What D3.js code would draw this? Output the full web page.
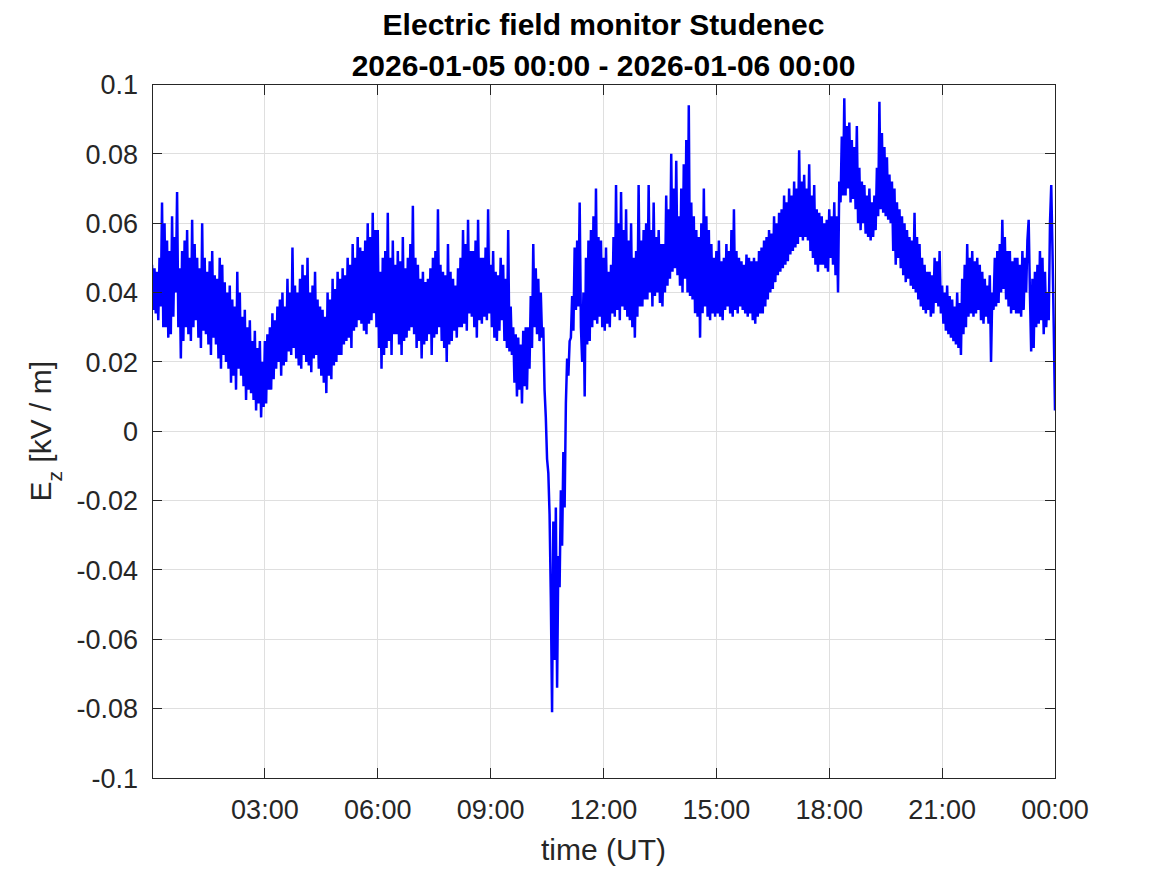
<!DOCTYPE html>
<html>
<meta charset="utf-8">
<title>Electric field monitor Studenec</title>
<style>
body {
  margin: 0;
  background: #fff;
  font-family: "Liberation Sans", Arial, sans-serif;
}

.grid line {
  stroke: #dfdfdf;
  stroke-width: 1;
  shape-rendering: crispEdges;
}

.frame {
  fill: none;
  stroke: #262626;
  stroke-width: 1;
  shape-rendering: crispEdges;
}

.tick-mark {
  stroke: #262626;
  stroke-width: 1;
  shape-rendering: crispEdges;
}

.tick-label {
  font-size: 27px;
  fill: #262626;
}

.ez-line {
  fill: none;
  stroke: #0000ff;
  stroke-width: 2.5;
  stroke-linejoin: bevel;
}
</style>
<body>
<div id="chart"></div>
<script src="https://d3js.org/d3.v7.min.js"></script>
<script>

// E_z samples [kV/m], every 2 minutes starting 2026-01-05 00:00 UT
// (one row = one hour)
var sampleStart = Date.UTC(2026, 0, 5, 0, 0),
  sampleEnd = Date.UTC(2026, 0, 6, 0, 0),
  sampleStepMinutes = 2;

// 00:00 - 06:00
var ezNight = [
  0.048,0.035, 0.047,0.034, 0.046,0.032, 0.050,0.036, 0.066,0.030, 0.060,0.030, 0.055,0.027, 0.052,0.028, 0.062,0.033, 0.056,0.040, 0.069,0.030, 0.047,0.021, 0.052,0.026, 0.055,0.030, 0.058,0.028,
  0.050,0.026, 0.061,0.030, 0.054,0.032, 0.050,0.027, 0.047,0.024, 0.060,0.029, 0.050,0.028, 0.046,0.025, 0.049,0.022, 0.052,0.027, 0.045,0.025, 0.044,0.021, 0.050,0.018, 0.048,0.022, 0.043,0.020,
  0.040,0.018, 0.042,0.014, 0.038,0.016, 0.036,0.012, 0.046,0.018, 0.040,0.016, 0.033,0.013, 0.035,0.009, 0.030,0.012, 0.032,0.011, 0.026,0.009, 0.029,0.006, 0.024,0.008, 0.026,0.004, 0.020,0.007,
  0.026,0.008, 0.028,0.012, 0.030,0.012, 0.034,0.015, 0.032,0.018, 0.036,0.020, 0.038,0.016, 0.040,0.019, 0.036,0.020, 0.044,0.023, 0.040,0.022, 0.053,0.024, 0.042,0.021, 0.040,0.019, 0.044,0.018,
  0.048,0.022, 0.045,0.020, 0.050,0.019, 0.040,0.017, 0.042,0.021, 0.046,0.022, 0.038,0.018, 0.036,0.016, 0.035,0.014, 0.033,0.011, 0.040,0.016, 0.038,0.015, 0.044,0.019, 0.041,0.020, 0.046,0.022,
  0.044,0.022, 0.047,0.025, 0.045,0.026, 0.050,0.027, 0.048,0.024, 0.054,0.029, 0.050,0.030, 0.056,0.032, 0.053,0.031, 0.052,0.029, 0.055,0.028, 0.060,0.031, 0.056,0.032, 0.063,0.034, 0.058,0.030
];

// 06:00 - 12:00
var ezMorning = [
  0.058,0.024, 0.046,0.018, 0.050,0.022, 0.052,0.024, 0.063,0.026, 0.050,0.022, 0.055,0.028, 0.048,0.028, 0.052,0.025, 0.049,0.022, 0.056,0.026, 0.047,0.027, 0.050,0.029, 0.054,0.030, 0.065,0.028,
  0.050,0.024, 0.048,0.026, 0.044,0.021, 0.046,0.025, 0.043,0.026, 0.044,0.028, 0.047,0.022, 0.050,0.027, 0.052,0.028, 0.064,0.030, 0.048,0.026, 0.046,0.024, 0.045,0.020, 0.054,0.025, 0.046,0.026,
  0.044,0.029, 0.042,0.027, 0.047,0.030, 0.050,0.030, 0.058,0.031, 0.054,0.029, 0.061,0.034, 0.052,0.033, 0.052,0.030, 0.055,0.027, 0.061,0.032, 0.050,0.031, 0.050,0.033, 0.053,0.032, 0.064,0.034,
  0.048,0.030, 0.052,0.027, 0.046,0.026, 0.045,0.029, 0.050,0.032, 0.048,0.026, 0.044,0.024, 0.058,0.023, 0.036,0.022, 0.030,0.014, 0.028,0.010, 0.027,0.012, 0.025,0.008, 0.029,0.013, 0.030,0.012,
  0.030,0.018, 0.039,0.024, 0.054,0.030, 0.047,0.028, 0.044,0.026, 0.040,0.027, 0.030,0.012, 0.004,-0.008, -0.012,-0.024, -0.048,-0.081, -0.026,-0.066, -0.022,-0.074, -0.036,-0.045, -0.017,-0.033, -0.006,-0.022,
  0.008,0.021, 0.016,0.026, 0.027,0.039, 0.029,0.053, 0.035,0.055, 0.036,0.066, 0.030,0.020, 0.040,0.010, 0.050,0.025, 0.055,0.026, 0.058,0.030, 0.062,0.032, 0.070,0.031, 0.056,0.033, 0.055,0.030
];

// 12:00 - 18:00
var ezAfternoon = [
  0.050,0.029, 0.053,0.031, 0.046,0.030, 0.048,0.034, 0.056,0.033, 0.071,0.035, 0.060,0.032, 0.069,0.036, 0.058,0.035, 0.064,0.033, 0.055,0.032, 0.060,0.030, 0.050,0.027, 0.052,0.033, 0.071,0.036,
  0.055,0.036, 0.058,0.038, 0.060,0.038, 0.071,0.040, 0.058,0.036, 0.066,0.039, 0.056,0.040, 0.058,0.037, 0.054,0.036, 0.054,0.040, 0.068,0.042, 0.064,0.044, 0.080,0.046, 0.070,0.047, 0.078,0.045,
  0.062,0.042, 0.070,0.040, 0.077,0.044, 0.084,0.040, 0.094,0.039, 0.066,0.038, 0.062,0.034, 0.058,0.033, 0.056,0.027, 0.060,0.034, 0.070,0.036, 0.062,0.033, 0.058,0.032, 0.054,0.034, 0.050,0.033,
  0.052,0.034, 0.055,0.033, 0.049,0.032, 0.050,0.035, 0.054,0.036, 0.052,0.034, 0.058,0.033, 0.064,0.035, 0.052,0.034, 0.050,0.036, 0.049,0.035, 0.048,0.034, 0.051,0.033, 0.050,0.034, 0.049,0.032,
  0.050,0.031, 0.049,0.033, 0.052,0.034, 0.053,0.034, 0.055,0.036, 0.056,0.038, 0.058,0.040, 0.057,0.041, 0.062,0.043, 0.060,0.045, 0.063,0.046, 0.064,0.047, 0.068,0.048, 0.066,0.049, 0.070,0.051,
  0.068,0.052, 0.072,0.053, 0.070,0.054, 0.081,0.056, 0.072,0.055, 0.074,0.056, 0.070,0.055, 0.077,0.052, 0.068,0.050, 0.071,0.048, 0.064,0.046, 0.063,0.048, 0.062,0.048, 0.060,0.047, 0.061,0.046
];

// 18:00 - 24:00 (last value is 00:00 next day)
var ezEvening = [
  0.064,0.050, 0.062,0.048, 0.066,0.045, 0.062,0.040, 0.072,0.066, 0.085,0.068, 0.096,0.068, 0.088,0.070, 0.089,0.066, 0.084,0.067, 0.082,0.064, 0.088,0.060, 0.076,0.058, 0.072,0.060, 0.071,0.057,
  0.068,0.056, 0.070,0.055, 0.066,0.056, 0.068,0.058, 0.076,0.062, 0.095,0.064, 0.086,0.063, 0.082,0.062, 0.079,0.061, 0.074,0.060, 0.072,0.052, 0.070,0.048, 0.066,0.050, 0.064,0.047, 0.062,0.045,
  0.060,0.043, 0.058,0.044, 0.056,0.042, 0.055,0.041, 0.063,0.040, 0.056,0.038, 0.054,0.036, 0.050,0.035, 0.048,0.034, 0.046,0.035, 0.046,0.033, 0.045,0.034, 0.050,0.037, 0.049,0.036, 0.052,0.034,
  0.042,0.031, 0.040,0.029, 0.042,0.028, 0.039,0.027, 0.038,0.026, 0.036,0.025, 0.040,0.024, 0.037,0.022, 0.044,0.028, 0.048,0.030, 0.054,0.033, 0.050,0.034, 0.052,0.033, 0.049,0.034, 0.050,0.035,
  0.048,0.032, 0.046,0.031, 0.044,0.033, 0.042,0.031, 0.045,0.020, 0.040,0.035, 0.050,0.036, 0.052,0.037, 0.054,0.040, 0.061,0.041, 0.056,0.038, 0.052,0.036, 0.052,0.034, 0.049,0.035, 0.050,0.034,
  0.050,0.034, 0.048,0.033, 0.052,0.035, 0.050,0.040, 0.055,0.061, 0.040,0.023, 0.044,0.024, 0.046,0.030, 0.048,0.031, 0.052,0.032, 0.050,0.028, 0.046,0.030, 0.040,0.032, 0.060,0.071, 0.052,0.030,
  0.006
];

var yTicks = [-0.1, -0.08, -0.06, -0.04, -0.02, 0, 0.02, 0.04, 0.06, 0.08, 0.1];
var titleLines = ["Electric field monitor Studenec", "2026-01-05 00:00 - 2026-01-06 00:00"];
var xLabel = "time (UT)";

var W = 1167,
  H = 875;

var margin = {
    top: 84.5,
    right: 112,
    bottom: 97,
    left: 152
  },
  width = W - margin.left - margin.right,
  height = H - margin.top - margin.bottom;

var ez = ezNight.concat(ezMorning, ezAfternoon, ezEvening);
var data = ez.map(function(v, i) {
  return { t: new Date(sampleStart + i * sampleStepMinutes * 60000), v: v };
});

var x = d3.scaleUtc()
  .domain([new Date(sampleStart), new Date(sampleEnd)])
  .range([0, width]);

var y = d3.scaleLinear()
  .domain([-0.1, 0.1])
  .range([height, 0]);

var xTicks = d3.utcHour.every(3).range(new Date(sampleStart + 1), new Date(sampleEnd + 1));
var timeFormat = d3.utcFormat("%H:%M");
var yFormat = function(d) {
  return String(+d.toFixed(2));
};

var svg = d3.select("#chart").append("svg")
  .attr("width", W)
  .attr("height", H)
  .append("g")
  .attr("transform", "translate(" + margin.left + "," + margin.top + ")");

svg.append("clipPath")
  .attr("id", "plot-clip")
  .append("rect")
  .attr("width", width)
  .attr("height", height);

// grid
var grid = svg.append("g").attr("class", "grid");
grid.selectAll(".gx")
  .data(xTicks.filter(function(d) { return +d < sampleEnd; }))
  .enter().append("line")
  .attr("x1", function(d) { return x(d); })
  .attr("x2", function(d) { return x(d); })
  .attr("y1", 0)
  .attr("y2", height);
grid.selectAll(".gy")
  .data(yTicks.slice(1, -1))
  .enter().append("line")
  .attr("x1", 0)
  .attr("x2", width)
  .attr("y1", function(d) { return y(d); })
  .attr("y2", function(d) { return y(d); });

// data line
var line = d3.line()
  .x(function(d) { return x(d.t); })
  .y(function(d) { return y(d.v); });

svg.append("path")
  .datum(data)
  .attr("class", "ez-line")
  .attr("clip-path", "url(#plot-clip)")
  .attr("d", line);

// frame
svg.append("rect")
  .attr("class", "frame")
  .attr("x", 0)
  .attr("y", 0)
  .attr("width", width)
  .attr("height", height);

var tickLen = 10;

// x ticks (bottom and top, inward)
var xt = svg.append("g").selectAll(".xt")
  .data(xTicks)
  .enter().append("g")
  .attr("transform", function(d) { return "translate(" + x(d) + ",0)"; });
xt.append("line")
  .attr("class", "tick-mark")
  .attr("y1", height)
  .attr("y2", height - tickLen);
xt.append("line")
  .attr("class", "tick-mark")
  .attr("y1", 0)
  .attr("y2", tickLen);
xt.append("text")
  .attr("class", "tick-label")
  .attr("y", height + 41)
  .attr("text-anchor", "middle")
  .text(function(d) { return timeFormat(d); });

// y ticks (left and right, inward)
var yt = svg.append("g").selectAll(".yt")
  .data(yTicks)
  .enter().append("g")
  .attr("transform", function(d) { return "translate(0," + y(d) + ")"; });
yt.append("line")
  .attr("class", "tick-mark")
  .attr("x1", 0)
  .attr("x2", tickLen);
yt.append("line")
  .attr("class", "tick-mark")
  .attr("x1", width)
  .attr("x2", width - tickLen);
yt.append("text")
  .attr("class", "tick-label")
  .attr("x", -14)
  .attr("dy", "0.36em")
  .attr("text-anchor", "end")
  .text(yFormat);

// axis labels
svg.append("text")
  .attr("x", width / 2)
  .attr("y", height + 82)
  .attr("text-anchor", "middle")
  .style("font-size", "30px")
  .style("fill", "#262626")
  .text(xLabel);

var yl = svg.append("text")
  .attr("transform", "translate(-101," + (height / 2) + ") rotate(-90)")
  .attr("text-anchor", "middle")
  .style("font-size", "30px")
  .style("fill", "#262626");
yl.append("tspan").text("E");
yl.append("tspan").attr("dy", 11).style("font-size", "21px").text("z");
yl.append("tspan").attr("dy", -11).text(" [kV / m]");

// title
svg.append("g").selectAll(".title")
  .data(titleLines)
  .enter().append("text")
  .attr("x", width / 2)
  .attr("y", function(d, i) { return -50 + i * 41; })
  .attr("text-anchor", "middle")
  .style("font-size", "30px")
  .style("font-weight", "bold")
  .style("fill", "#000")
  .text(function(d) { return d; });

</script>
